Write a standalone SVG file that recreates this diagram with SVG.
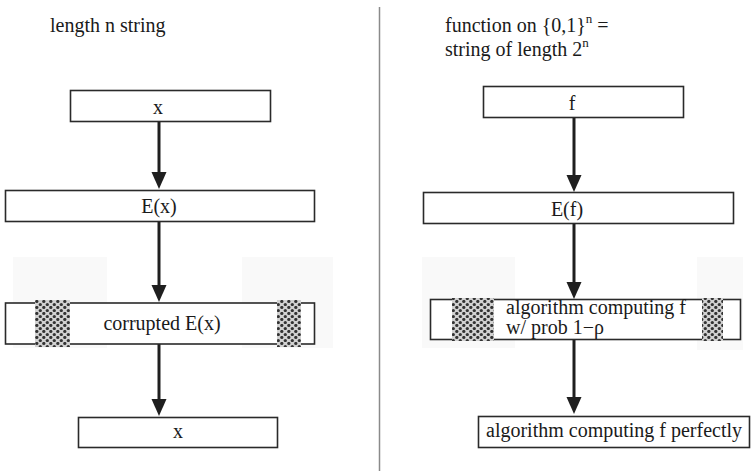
<svg xmlns="http://www.w3.org/2000/svg" width="751" height="471" viewBox="0 0 751 471">
<style>
text{font-family:"Liberation Serif","Times New Roman",serif;font-size:20px;fill:#1a1a1a}
.box{fill:#fff;stroke:#2a2a2a;stroke-width:1.6}
.haze{fill:#f9f9f9}
.stip{fill:url(#dots)}
.conn line{stroke:#1f1f1f;stroke-width:3}
.head{fill:#1f1f1f}
.mid{text-anchor:middle}
</style>
<defs>
<pattern id="dots" patternUnits="userSpaceOnUse" width="7" height="6">
<rect width="7" height="6" fill="#d2d2d2"/>
<circle cx="1.8" cy="1.5" r="1.6" fill="#333"/>
<circle cx="5.3" cy="4.5" r="1.6" fill="#333"/>
</pattern>
</defs>
<rect width="751" height="471" fill="#fff"/>
<line x1="379.5" y1="7" x2="379.5" y2="471" stroke="#8a8a8a" stroke-width="1.5"/>

<text x="50" y="32">length n string</text>
<text x="445" y="32">function on {0,1}<tspan font-size="13" dy="-9">n</tspan><tspan dy="9"> =</tspan></text>
<text x="445" y="56">string of length 2<tspan font-size="13" dy="-9">n</tspan></text>

<g class="conn">
<line x1="159" y1="122" x2="159" y2="172"/>
<path class="head" d="M151.5,172 L166.5,172 L159,189 Z"/>
<line x1="159" y1="221" x2="159" y2="286"/>
<path class="head" d="M151.5,285 L166.5,285 L159,302 Z"/>
<line x1="159" y1="344" x2="159" y2="400"/>
<path class="head" d="M151.5,399 L166.5,399 L159,416 Z"/>
<line x1="574" y1="117" x2="574" y2="176"/>
<path class="head" d="M566.5,175 L581.5,175 L574,192 Z"/>
<line x1="574" y1="223" x2="574" y2="283"/>
<path class="head" d="M566.5,282 L581.5,282 L574,299 Z"/>
<line x1="574" y1="339" x2="574" y2="398"/>
<path class="head" d="M566.5,397 L581.5,397 L574,414 Z"/>
</g>

<g id="x-input">
<rect class="box" x="70.5" y="90.5" width="200" height="31"/>
<text class="mid" x="158" y="114">x</text>
</g>
<g id="ex">
<rect class="box" x="5.5" y="190.5" width="309" height="31"/>
<text class="mid" x="159" y="213">E(x)</text>
</g>
<g id="corrupted">
<rect class="haze" x="13" y="257" width="94" height="91"/>
<rect class="haze" x="242" y="257" width="91" height="91"/>
<rect class="box" x="5.5" y="303" width="309" height="41"/>
<rect class="stip" x="35" y="300" width="35" height="47"/>
<rect class="stip" x="277" y="300" width="24" height="47"/>
<text class="mid" x="162" y="330">corrupted E(x)</text>
</g>
<g id="x-output">
<rect class="box" x="78.5" y="417.5" width="199" height="30"/>
<text class="mid" x="178" y="438">x</text>
</g>

<g id="f-input">
<rect class="box" x="483.5" y="86.5" width="200" height="31"/>
<text class="mid" x="572" y="110">f</text>
</g>
<g id="ef">
<rect class="box" x="423.5" y="192.5" width="310" height="31"/>
<text class="mid" x="567" y="216">E(f)</text>
</g>
<g id="algo-prob">
<rect class="haze" x="422" y="257" width="93" height="91"/>
<rect class="haze" x="697" y="257" width="46" height="93"/>
<rect class="box" x="430.5" y="299.5" width="310" height="40"/>
<rect class="stip" x="452" y="298" width="42" height="43"/>
<rect class="stip" x="702" y="298" width="21" height="43"/>
<text x="506" y="314">algorithm computing f</text>
<text x="506" y="334">w/ prob 1−ρ</text>
</g>
<g id="algo-perfect">
<rect class="box" x="478.5" y="416.5" width="271" height="31"/>
<text x="486" y="437">algorithm computing f perfectly</text>
</g>
</svg>
